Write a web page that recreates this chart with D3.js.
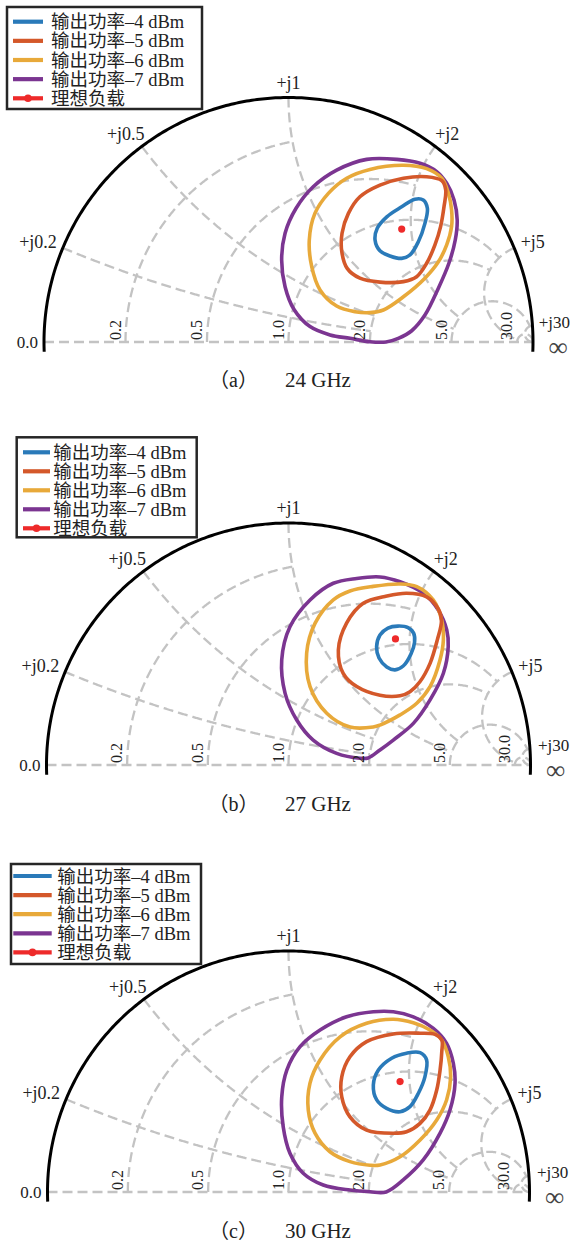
<!DOCTYPE html>
<html><head><meta charset="utf-8">
<script src="https://cdn.jsdelivr.net/npm/d3@7"></script>
<style>body{margin:0;background:#fff}svg{display:block}</style>
</head><body><svg id="c" width="572" height="1244"></svg>
<script>
// ---------- data ----------
const seriesNames = ["输出功率–4 dBm", "输出功率–5 dBm", "输出功率–6 dBm", "输出功率–7 dBm"];
const idealName = "理想负载";
const panelTags = ["（a）", "（b）", "（c）"];
const frequencies = ["24 GHz", "27 GHz", "30 GHz"];
const resistanceTicks = [0.2, 0.5, 1, 2, 5, 30];
const resistanceLabels = ["0.2", "0.5", "1.0", "2.0", "5.0", "30.0"];
const reactanceTicks = [0.2, 0.5, 1, 2, 5, 30];
const reactanceLabels = ["+j0.2", "+j0.5", "+j1", "+j2", "+j5", "+j30"];
// how far each grid line runs (fancy grid)
const resistanceGridReach = [1, 2, 5, 5, 30, Infinity];
const reactanceGridReach = [2, 2, 5, 5, 30, Infinity];

// load-pull contours, reflection coefficient [Re, Im]
// 24 GHz
const a_p4 = [[0.551,0.581],[0.568,0.547],[0.558,0.485],[0.531,0.410],[0.497,0.356],[0.463,0.342],[0.415,0.352],[0.374,0.373],[0.354,0.417],[0.363,0.465],[0.402,0.512],[0.463,0.553],[0.517,0.584]];
const a_p5 = [[0.627,0.660],[0.643,0.622],[0.636,0.553],[0.622,0.472],[0.599,0.397],[0.565,0.322],[0.524,0.267],[0.470,0.247],[0.374,0.245],[0.292,0.261],[0.240,0.301],[0.218,0.369],[0.219,0.445],[0.245,0.526],[0.292,0.594],[0.374,0.642],[0.470,0.670],[0.565,0.676]];
const a_p6 = [[0.333,0.706],[0.470,0.723],[0.565,0.709],[0.627,0.670],[0.654,0.608],[0.667,0.540],[0.667,0.472],[0.647,0.397],[0.613,0.328],[0.558,0.261],[0.470,0.185],[0.388,0.131],[0.333,0.120],[0.272,0.124],[0.197,0.147],[0.129,0.213],[0.095,0.308],[0.085,0.417],[0.108,0.526],[0.163,0.608],[0.238,0.670]];
const a_p7 = [[0.320,0.747],[0.443,0.747],[0.538,0.731],[0.606,0.697],[0.647,0.649],[0.677,0.581],[0.690,0.499],[0.682,0.417],[0.656,0.322],[0.613,0.220],[0.558,0.110],[0.504,0.046],[0.449,0.015],[0.399,0.000],[0.333,0.001],[0.252,0.015],[0.170,0.029],[0.088,0.063],[0.022,0.134],[-0.014,0.226],[-0.028,0.335],[-0.014,0.445],[0.031,0.547],[0.101,0.635],[0.197,0.703]];
const a_ideal = [0.463, 0.462];
// 27 GHz
const b_p4 = [[0.452,0.574],[0.494,0.568],[0.517,0.545],[0.521,0.508],[0.506,0.459],[0.474,0.409],[0.440,0.393],[0.406,0.405],[0.374,0.442],[0.364,0.488],[0.378,0.537],[0.411,0.566]];
const b_p5 = [[0.309,0.668],[0.406,0.698],[0.488,0.710],[0.571,0.695],[0.619,0.645],[0.632,0.595],[0.615,0.517],[0.585,0.420],[0.543,0.344],[0.502,0.303],[0.461,0.286],[0.378,0.288],[0.282,0.324],[0.226,0.379],[0.206,0.475],[0.240,0.586]];
const b_p6 = [[0.350,0.738],[0.461,0.748],[0.530,0.737],[0.598,0.682],[0.633,0.599],[0.640,0.517],[0.626,0.434],[0.585,0.324],[0.530,0.255],[0.461,0.207],[0.378,0.165],[0.350,0.157],[0.254,0.157],[0.158,0.214],[0.089,0.324],[0.075,0.462],[0.110,0.586],[0.185,0.682],[0.254,0.719]];
const b_p7 = [[0.282,0.771],[0.378,0.777],[0.461,0.757],[0.557,0.710],[0.619,0.640],[0.654,0.558],[0.660,0.489],[0.640,0.379],[0.585,0.269],[0.516,0.172],[0.433,0.103],[0.378,0.062],[0.329,0.029],[0.295,0.028],[0.199,0.048],[0.102,0.103],[0.034,0.186],[-0.014,0.296],[-0.028,0.434],[0.006,0.571],[0.089,0.682],[0.185,0.751]];
const b_ideal = [0.442, 0.521];
// 30 GHz
const c_p4 = [[0.490,0.576],[0.546,0.578],[0.573,0.548],[0.566,0.478],[0.539,0.410],[0.504,0.354],[0.463,0.333],[0.407,0.347],[0.366,0.382],[0.352,0.444],[0.373,0.506],[0.428,0.555]];
const c_p5 = [[0.636,0.631],[0.636,0.582],[0.629,0.506],[0.615,0.423],[0.587,0.340],[0.546,0.285],[0.490,0.250],[0.435,0.244],[0.324,0.257],[0.255,0.312],[0.221,0.395],[0.221,0.478],[0.255,0.561],[0.324,0.624],[0.435,0.656],[0.546,0.659],[0.608,0.654]];
const c_p6 = [[0.435,0.717],[0.518,0.702],[0.587,0.672],[0.636,0.631],[0.663,0.561],[0.673,0.478],[0.656,0.382],[0.615,0.299],[0.546,0.216],[0.463,0.146],[0.380,0.112],[0.338,0.111],[0.255,0.126],[0.172,0.167],[0.110,0.244],[0.082,0.340],[0.089,0.451],[0.131,0.548],[0.214,0.644],[0.324,0.700]];
const c_p7 = [[0.352,0.748],[0.435,0.748],[0.518,0.727],[0.601,0.679],[0.656,0.617],[0.684,0.534],[0.691,0.451],[0.670,0.340],[0.629,0.244],[0.559,0.133],[0.476,0.050],[0.405,0.000],[0.338,0.001],[0.255,0.008],[0.144,0.029],[0.061,0.078],[0.006,0.161],[-0.022,0.271],[-0.028,0.395],[-0.007,0.506],[0.048,0.603],[0.131,0.672],[0.241,0.727]];
const c_ideal = [0.463, 0.458];

// ---------- layout ----------
const colors = ["#2a7ab9", "#d4582a", "#e8a93a", "#7b3591"];
const idealColor = "#ee2a2a";
const gridColor = "#c3c3c3";
const latin = "'Liberation Serif','Noto Sans CJK SC',serif";

const panels = [
  {cx: 288.5, cy: 342, R: 244.5, box: [7, 7, 195, 102], lx: [13, 43], tx: 51, ty0: 21.7, tdy: 19.15, capY: 387, curves: [a_p4, a_p5, a_p6, a_p7], ideal: a_ideal},
  {cx: 288.5, cy: 765, R: 242, box: [16.7, 437.3, 180, 100], lx: [23, 50], tx: 53.3, ty0: 452.3, tdy: 19.0, capY: 811, curves: [b_p4, b_p5, b_p6, b_p7], ideal: b_ideal},
  {cx: 288.5, cy: 1192, R: 241, box: [11, 864, 190, 100], lx: [13.3, 51.7], tx: 57.3, ty0: 876, tdy: 19.1, capY: 1238, curves: [c_p4, c_p5, c_p6, c_p7], ideal: c_ideal}
];

const svg = d3.select("#c");

function gamma(r, x) {
  const a = r - 1, c = r + 1;
  const den = c * c + x * x;
  return [(a * c + x * x) / den, (x * c - a * x) / den];
}

panels.forEach((p, pi) => {
  const g = svg.append("g");
  const xs = d3.scaleLinear().domain([-1, 1]).range([p.cx - p.R, p.cx + p.R]);
  const ys = d3.scaleLinear().domain([-1, 1]).range([p.cy + p.R, p.cy - p.R]);
  const line = d3.line().x(d => xs(d[0])).y(d => ys(d[1]));
  const dashed = sel => sel.attr("fill", "none").attr("stroke", gridColor)
    .attr("stroke-width", 2.3).attr("stroke-dasharray", "10,5");

  // grid: real axis
  g.append("path").attr("d", line([[-1, 0], [1, 0]])).call(dashed);
  // resistance circles
  resistanceTicks.forEach((r, i) => {
    const tMax = Math.atan(resistanceGridReach[i]);
    const pts = d3.range(0, 401).map(k => gamma(r, Math.tan(tMax * k / 400)));
    g.append("path").attr("d", line(pts)).call(dashed);
  });
  // reactance arcs
  reactanceTicks.forEach((x, i) => {
    const tMax = Math.atan(reactanceGridReach[i]);
    const pts = d3.range(0, 401).map(k => gamma(Math.tan(Math.min(tMax * k / 400, 1.5707)), x));
    g.append("path").attr("d", line(pts)).call(dashed);
  });

  // outer boundary
  const a0 = -0.04, a1 = Math.PI + 0.04;
  const bound = d3.range(0, 301).map(k => {
    const t = a0 + (a1 - a0) * k / 300;
    return [Math.cos(t), Math.sin(t)];
  });
  g.append("path").attr("d", line(bound)).attr("fill", "none").attr("stroke", "#000").attr("stroke-width", 3);

  // contours
  const cl = d3.line().x(d => xs(d[0])).y(d => ys(d[1])).curve(d3.curveCatmullRomClosed.alpha(0.5));
  [3, 2, 1, 0].forEach(si => {
    g.append("path").attr("d", cl(p.curves[si])).attr("fill", "none")
      .attr("stroke", colors[si]).attr("stroke-width", 3.6).attr("stroke-linejoin", "round");
  });
  g.append("circle").attr("cx", xs(p.ideal[0])).attr("cy", ys(p.ideal[1])).attr("r", 3.6).attr("fill", idealColor);

  // resistance labels
  resistanceTicks.forEach((r, i) => {
    const px = xs(gamma(r, 0)[0]) - 5;
    g.append("text").attr("transform", `translate(${px},${p.cy - 2}) rotate(-90)`)
      .attr("font-family", latin).attr("font-size", 16).attr("fill", "#222").text(resistanceLabels[i]);
  });
  g.append("text").attr("x", xs(-1) - 6).attr("y", p.cy + 6).attr("text-anchor", "end")
    .attr("font-family", latin).attr("font-size", 17).attr("fill", "#222").text("0.0");
  g.append("text").attr("x", xs(1) + 25).attr("y", p.cy + 14).attr("text-anchor", "middle")
    .attr("font-family", latin).attr("font-size", 27).attr("fill", "#444").text("∞");

  // reactance labels
  reactanceTicks.forEach((x, i) => {
    const G = gamma(0, x);
    const ux = G[0], uy = G[1];
    const px = xs(G[0] * (1 + 8 / p.R)), py = ys(G[1] * (1 + 8 / p.R));
    const fs = i === 5 ? 17 : 18;
    const t = g.append("text").attr("font-family", latin).attr("font-size", fs).attr("fill", "#222")
      .attr("text-anchor", "middle").text(reactanceLabels[i]);
    const w = t.node().getComputedTextLength();
    const h = 13;
    const tx = Math.min(px + ux * w / 2, 570 - w / 2);
    t.attr("x", tx).attr("y", py - uy * h / 2 + 5.5 - (i === 5 ? 2 : 0));
  });

  // legend
  const [bx, by, bw, bh] = p.box;
  const lg = g.append("g");
  lg.append("rect").attr("x", bx).attr("y", by).attr("width", bw).attr("height", bh)
    .attr("fill", "#fff").attr("stroke", "#262626").attr("stroke-width", 2.5);
  const names = seriesNames.concat([idealName]);
  const cols = colors.concat([idealColor]);
  names.forEach((n, i) => {
    const yy = p.ty0 + i * p.tdy;
    lg.append("line").attr("x1", p.lx[0]).attr("x2", p.lx[1]).attr("y1", yy).attr("y2", yy)
      .attr("stroke", cols[i]).attr("stroke-width", 4.2);
    if (i === 4) lg.append("circle").attr("cx", (p.lx[0] + p.lx[1]) / 2).attr("cy", yy).attr("r", 3.8).attr("fill", cols[i]);
    lg.append("text").attr("x", p.tx).attr("y", yy + 6.5).attr("font-family", latin)
      .attr("font-size", 18.5).attr("fill", "#222").text(n);
  });

  // caption
  g.append("text").attr("x", 233.5).attr("y", p.capY).attr("text-anchor", "middle")
    .attr("font-family", latin).attr("font-size", 20).attr("fill", "#222").text(panelTags[pi]);
  g.append("text").attr("x", 285).attr("y", p.capY).attr("font-family", latin)
    .attr("font-size", 21).attr("fill", "#222").text(frequencies[pi]);
});
</script></body></html>
